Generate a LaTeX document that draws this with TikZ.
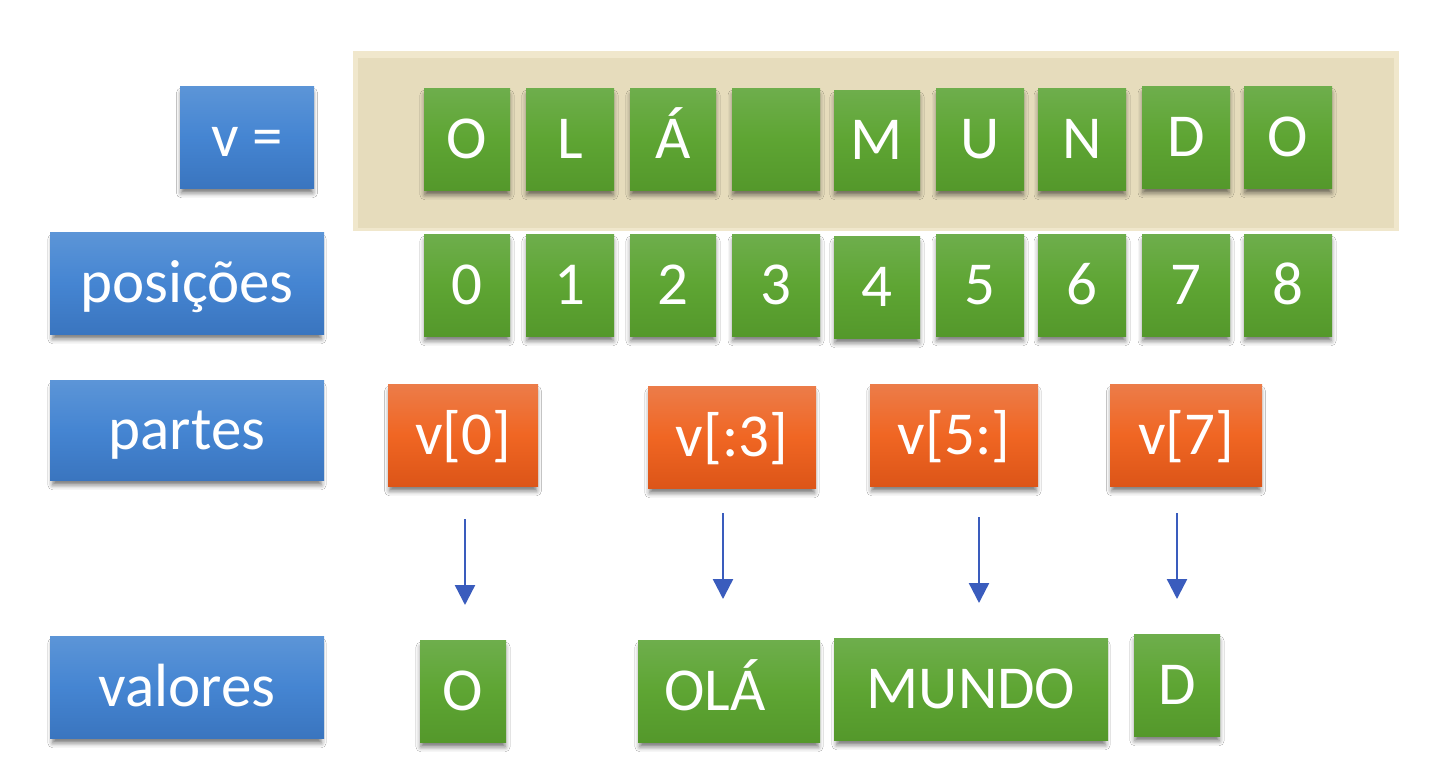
\documentclass[tikz,border=0pt]{standalone}
\usepackage{fontspec}
\setmainfont{Carlito}
\usetikzlibrary{arrows.meta,shadows.blur}
\definecolor{bluetop}{HTML}{5C95D7}
\definecolor{bluemid}{HTML}{4585D2}
\definecolor{bluebot}{HTML}{3A75BF}
\definecolor{greentop}{HTML}{6EAE4C}
\definecolor{greenmid}{HTML}{5EA533}
\definecolor{greenbot}{HTML}{54982B}
\definecolor{orangetop}{HTML}{EC7C49}
\definecolor{orangemid}{HTML}{F06623}
\definecolor{orangebot}{HTML}{DC5518}
\definecolor{tanfill}{HTML}{E6DCBC}
\definecolor{tanedge}{HTML}{F0E7CC}
\definecolor{arrowblue}{HTML}{3A5CBD}
\tikzset{
  basebox/.style={rectangle, inner sep=0pt, text=white,
    font=\fontsize{61}{70}\selectfont, text height=39.3pt, text depth=0pt,
    blur shadow={shadow xshift=0pt, shadow yshift=-6pt, shadow scale=0.98, shadow blur radius=5pt, shadow opacity=55}},
  bluebox/.style={basebox, top color=bluetop, bottom color=bluebot, middle color=bluemid},
  greenbox/.style={basebox, top color=greentop, bottom color=greenbot, middle color=greenmid},
  orangebox/.style={basebox, top color=orangetop, bottom color=orangebot, middle color=orangemid},
  arr/.style={draw=arrowblue, line width=2.4pt, -{Triangle[width=20pt,length=20pt]}}
}
\begin{document}
\begin{tikzpicture}[x=1pt,y=-1pt]
\useasboundingbox (0,0) rectangle (1432,784);
\fill[white] (0,0) rectangle (1432,784);
% tan background
\node[rectangle, inner sep=0pt, fill=tanedge, minimum width=1046, minimum height=180] (bgedge) at (876,141) {};
\node[rectangle, inner sep=0pt, fill=tanfill, minimum width=1036, minimum height=170] (bg) at (876,143) {};
% labels
\node[bluebox, minimum width=134, minimum height=102] (lv) at (247,137) {v =};
\node[bluebox, minimum width=274, minimum height=102] (lpos) at (187,283) {posições};
\node[bluebox, minimum width=274, minimum height=100] (lpar) at (187,430) {partes};
\node[bluebox, minimum width=274, minimum height=102] (lval) at (187,687) {valores};
% string letters
\node[greenbox, minimum width=86, minimum height=102] (c0) at (467,139) {O};
\node[greenbox, minimum width=88, minimum height=102] (c1) at (570,139) {L};
\node[greenbox, minimum width=86, minimum height=102] (c2) at (673,139) {Á};
\node[greenbox, minimum width=88, minimum height=102] (c3) at (776,139) {};
\node[greenbox, minimum width=86, minimum height=100] (c4) at (877,140) {M};
\node[greenbox, minimum width=88, minimum height=102] (c5) at (980,139) {U};
\node[greenbox, minimum width=88, minimum height=102] (c6) at (1082,139) {N};
\node[greenbox, minimum width=88, minimum height=102] (c7) at (1186,137) {D};
\node[greenbox, minimum width=88, minimum height=102] (c8) at (1288,137) {O};
% positions
\node[greenbox, minimum width=86, minimum height=102] (n0) at (467,285) {0};
\node[greenbox, minimum width=88, minimum height=102] (n1) at (570,285) {1};
\node[greenbox, minimum width=86, minimum height=102] (n2) at (673,285) {2};
\node[greenbox, minimum width=88, minimum height=102] (n3) at (776,285) {3};
\node[greenbox, minimum width=86, minimum height=102] (n4) at (877,287) {4};
\node[greenbox, minimum width=88, minimum height=102] (n5) at (980,285) {5};
\node[greenbox, minimum width=88, minimum height=102] (n6) at (1082,285) {6};
\node[greenbox, minimum width=88, minimum height=102] (n7) at (1186,285) {7};
\node[greenbox, minimum width=88, minimum height=102] (n8) at (1288,285) {8};
% slices
\node[orangebox, minimum width=150, minimum height=102] (p0) at (463,435) {v[0]};
\node[orangebox, minimum width=168, minimum height=102] (p1) at (732,437) {v[:3]};
\node[orangebox, minimum width=168, minimum height=102] (p2) at (954,435) {v[5:]};
\node[orangebox, minimum width=152, minimum height=102] (p3) at (1186,435) {v[7]};
% values
\node[greenbox, minimum width=86, minimum height=102] (r0) at (463,691) {O};
\node[greenbox, minimum width=182, minimum height=102] (r1) at (729,691) {};
\node[text=white, font=\fontsize{61}{70}\selectfont, text height=39.3pt, text depth=0pt, inner sep=0pt] (r1t) at (715,691) {OLÁ};
\node[greenbox, minimum width=274, minimum height=102] (r2) at (971,689) {MUNDO};
\node[greenbox, minimum width=86, minimum height=102] (r3) at (1177,685) {D};
% arrows
\coordinate (s0) at (465,519); \coordinate (e0) at (465,605);
\coordinate (s1) at (723,513); \coordinate (e1) at (723,599);
\coordinate (s2) at (979,517); \coordinate (e2) at (979,603);
\coordinate (s3) at (1177,513); \coordinate (e3) at (1177,599);
\draw[arr] (s0) -- (e0);
\draw[arr] (s1) -- (e1);
\draw[arr] (s2) -- (e2);
\draw[arr] (s3) -- (e3);
\end{tikzpicture}
\end{document}
